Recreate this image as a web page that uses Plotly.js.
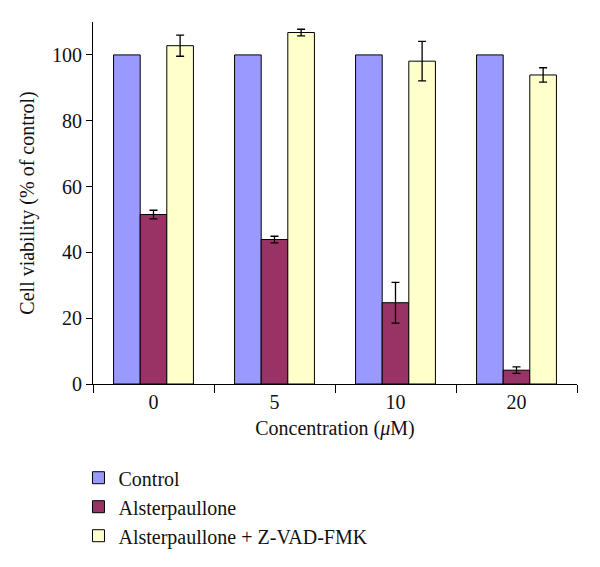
<!DOCTYPE html>
<html>
<head>
<meta charset="utf-8">
<script src="https://cdn.plot.ly/plotly-3.0.1.min.js"></script>
<style>body{margin:0;background:#fff}#chart{width:600px;height:567px}</style>
</head>
<body>
<div id="chart"></div>
<script>
const categories = ["0", "5", "10", "20"];
const controlValues = [100, 100, 100, 100];
const alsterValues = [51.5, 43.9, 24.7, 4.2];
const alsterErrors = [1.3, 1.0, 6.2, 1.0];
const comboValues = [102.8, 106.8, 98.1, 93.9];
const comboErrors = [3.2, 1.0, 6.0, 2.2];
const seriesNames = ["Control", "Alsterpaullone", "Alsterpaullone + Z-VAD-FMK"];

const font = "Liberation Serif, Times New Roman, serif";
const lineStyle = {color: "#000", width: 1};
const errStyle = {type: "data", visible: true, color: "#000", thickness: 1.3, width: 4};

const traces = [
  {type: "bar", x: categories, y: controlValues, name: seriesNames[0],
   marker: {color: "#9999FF", line: lineStyle}},
  {type: "bar", x: categories, y: alsterValues, name: seriesNames[1],
   marker: {color: "#993366", line: lineStyle},
   error_y: Object.assign({array: alsterErrors}, errStyle)},
  {type: "bar", x: categories, y: comboValues, name: seriesNames[2],
   marker: {color: "#FFFFCC", line: lineStyle},
   error_y: Object.assign({array: comboErrors}, errStyle)}
];

const layout = {
  width: 600, height: 567,
  margin: {l: 93, r: 23, t: 22, b: 183},
  paper_bgcolor: "#fff", plot_bgcolor: "#fff",
  font: {family: font, size: 20, color: "#111"},
  barmode: "group", bargap: 0.34, bargroupgap: 0,
  showlegend: true,
  legend: {x: -0.03, y: -0.205, xanchor: "left", yanchor: "top",
           font: {family: font, size: 20, color: "#111"},
           tracegroupgap: 0, itemwidth: 30},
  xaxis: {
    type: "category", showline: true, linecolor: "#000", linewidth: 1,
    ticks: "outside", tickson: "boundaries", ticklen: 8, tickcolor: "#000",
    showgrid: false, zeroline: false,
    title: {text: "Concentration (<i>μ</i>M)", font: {family: font, size: 20}, standoff: 8}
  },
  yaxis: {
    range: [0, 110], showline: true, linecolor: "#000", linewidth: 1,
    ticks: "outside", ticklen: 6, tickcolor: "#000", tickvals: [0, 20, 40, 60, 80, 100],
    showgrid: false, zeroline: false,
    title: {text: "Cell viability (% of control)", font: {family: font, size: 20}, standoff: 12}
  }
};

Plotly.newPlot("chart", traces, layout, {displayModeBar: false, staticPlot: true});
</script>
</body>
</html>
